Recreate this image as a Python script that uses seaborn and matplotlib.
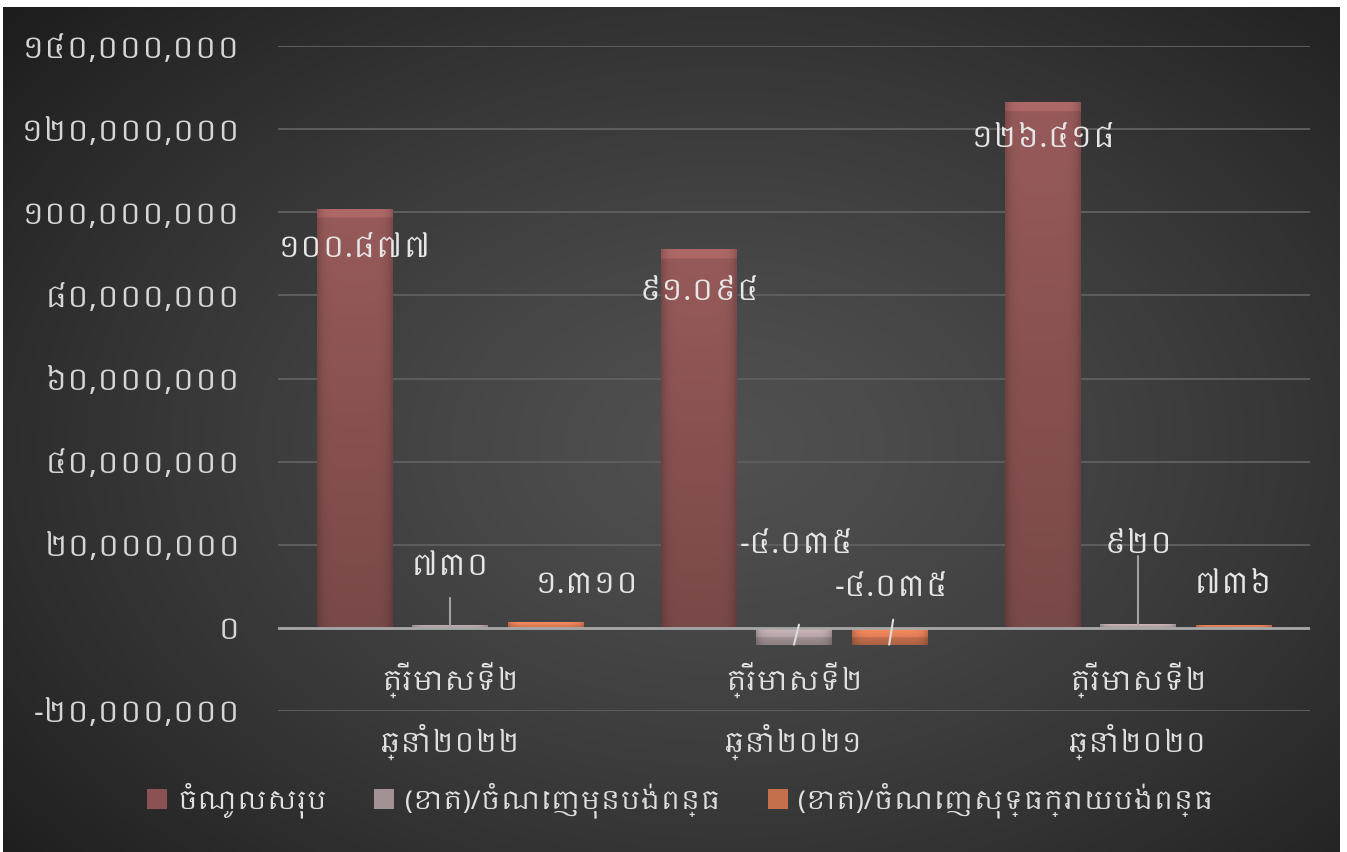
import numpy as np
import pandas as pd
import matplotlib
matplotlib.use("Agg")
import matplotlib.pyplot as plt
import seaborn as sns
from matplotlib import font_manager as fm
from matplotlib.ft2font import FT2Font
from matplotlib.colors import to_rgb

# ---------------- data ----------------
categories = ["ត្រីមាសទី២\nឆ្នាំ២០២២", "ត្រីមាសទី២\nឆ្នាំ២០២១", "ត្រីមាសទី២\nឆ្នាំ២០២០"]
series_names = ["ចំណូលសរុប", "(ខាត)/ចំណេញមុនបង់ពន្ធ", "(ខាត)/ចំណេញសុទ្ធក្រោយបង់ពន្ធ"]
revenue = [100_877_000, 91_094_000, 126_418_000]
profit_before_tax = [730_000, -4_035_000, 920_000]
net_profit = [1_310_000, -4_035_000, 736_000]
y_ticks = [-20_000_000, 0, 20_000_000, 40_000_000, 60_000_000,
           80_000_000, 100_000_000, 120_000_000, 140_000_000]

KHMER_DIGITS = str.maketrans("0123456789", "០១២៣៤៥៦៧៨៩")


def khmer_num(s):
    return s.translate(KHMER_DIGITS)


# ---------------- font ----------------
def find_khmer_font():
    paths = fm.findSystemFonts()
    paths = sorted(paths, key=lambda p: 0 if "khmer" in p.lower() else 1)
    for p in paths:
        try:
            cm = FT2Font(p).get_charmap()
        except Exception:
            continue
        if 0x1780 in cm and 0x17E0 in cm and 0x17D2 in cm:
            return p
    return None


sns.set_theme(style="dark")
families = ["DejaVu Sans"]
kp = find_khmer_font()
if kp:
    try:
        fm.fontManager.addfont(kp)
        kname = fm.FontProperties(fname=kp).get_name()
        families = [kname, "DejaVu Sans"]
    except Exception:
        pass
plt.rcParams["font.family"] = families

# ---------------- figure ----------------
W, H = 1347, 852
fig = plt.figure(figsize=(W / 100, H / 100), dpi=100, facecolor="white")

# background with radial gradient
bg = fig.add_axes([3 / W, 0, (1340 - 3) / W, (H - 7) / H], zorder=0)
ny, nx = 300, 480
yy, xx = np.mgrid[0:1:ny * 1j, 0:1:nx * 1j]
r = np.sqrt(((xx - 0.54) / 0.72) ** 2 + ((yy - 0.52) / 0.78) ** 2)
t = np.clip(r, 0, 1) ** 1.3
c0, c1 = 0x50 / 255, 0x1d / 255
g = c0 + (c1 - c0) * t
bg.imshow(np.dstack([g, g, g]), aspect="auto", extent=(0, 1, 0, 1), origin="upper")
bg.set_axis_off()

ax = fig.add_axes([278 / W, 1 - 711 / H, (1310 - 278) / W, (711 - 46) / H], zorder=1)
ax.set_facecolor("none")

df = pd.DataFrame({
    "category": categories * 3,
    "series": [s for s in series_names for _ in categories],
    "value": revenue + profit_before_tax + net_profit,
})
colors = ["#8a5252", "#a29294", "#c66f4c"]
palette = dict(zip(series_names, colors))

sns.barplot(data=df, x="category", y="value", hue="series", order=categories,
            hue_order=series_names, palette=palette, width=0.83, gap=0.21,
            saturation=1, errorbar=None, ax=ax, legend=True, zorder=3)

handles, labels = ax.get_legend_handles_labels()
if ax.get_legend() is not None:
    ax.get_legend().remove()

ax.set_xlim(-0.5, 2.5)
ax.set_ylim(-20_000_000, 140_000_000)
ax.set_yticks(y_ticks)
ax.set_yticklabels([khmer_num(f"{v:,}") for v in y_ticks], fontsize=21.5, color="#d6d6d6")
ax.tick_params(axis="y", length=0, pad=27)
ax.set_xticks([])
ax.set_xlabel("")
ax.set_ylabel("")
for s in ax.spines.values():
    s.set_visible(False)
for v in y_ticks:
    if v != 0:
        ax.axhline(v, color="#5e5e5e", lw=1.4, zorder=1)
ax.axhline(0, color="#a8a8a8", lw=2, zorder=4)

# pixel -> data conversion
px_y = (140_000_000 - (-20_000_000)) / (711 - 46)
bevel_units = 9 * px_y


def shade_bar(bar, base):
    x0, x1 = bar.get_x(), bar.get_x() + bar.get_width()
    ya, yb = bar.get_y(), bar.get_y() + bar.get_height()
    y0, y1 = min(ya, yb), max(ya, yb)
    h = max(y1 - y0, 1)
    nrow, ncol = 400, 40
    rows = np.linspace(0, 1, nrow)[:, None]     # 0 top -> 1 bottom
    cols = np.linspace(0, 1, ncol)[None, :]
    vert = 1.10 - 0.22 * rows
    horiz = 1 - 0.18 * np.abs(2 * cols - 1) ** 8
    bev = min(1.0, bevel_units / h)
    top = np.where(rows < bev, 1.15, 1.0)
    f = vert * horiz * top
    rgb = np.clip(np.array(to_rgb(base))[None, None, :] * f[:, :, None], 0, 1)
    im = ax.imshow(rgb, extent=(x0, x1, y0, y1), aspect="auto", origin="upper",
                   zorder=3.5, interpolation="bilinear")
    im.set_clip_path(bar)


for cont, base in zip(ax.containers, colors):
    for bar in cont:
        bar.set_edgecolor("none")
        shade_bar(bar, base)

ax.set_xlim(-0.5, 2.5)
ax.set_ylim(-20_000_000, 140_000_000)

# data labels (offsets in px relative to bar end)
label_offsets = [
    [(0, -40), (0, -42), (0, -36)],
    [(0, 58), (3, 100), (0, 80)],
    [(42, 38), (3, 57), (0, 40)],
]
leaders = [
    [None, None, None],
    [(0, 27), (5, 20), (0, 68)],
    [None, (4, 25), None],
]
series_values = [revenue, profit_before_tax, net_profit]
P = 0.72  # px -> points
for si, (cont, vals) in enumerate(zip(ax.containers, series_values)):
    for ci, (bar, v) in enumerate(zip(cont, vals)):
        xc = bar.get_x() + bar.get_width() / 2
        txt = khmer_num(f"{v / 1000:,.0f}".replace(",", "."))
        dx, dy = label_offsets[si][ci]
        ax.annotate(txt, xy=(xc, v), xytext=(dx * P, dy * P), textcoords="offset points",
                    ha="center", va="center", fontsize=21.5, color="#e6e6e6", zorder=6,
                    annotation_clip=False)
        ld = leaders[si][ci]
        if ld is not None:
            lc = "#a0a0a0" if v > 0 else "#dcdcdc"
            ax.annotate("", xy=(xc, v), xytext=(ld[0] * P, ld[1] * P),
                        textcoords="offset points",
                        arrowprops=dict(arrowstyle="-", color=lc, lw=1.5,
                                        shrinkA=0, shrinkB=0), zorder=6)

# category labels under the zero line
for ci, cat in enumerate(categories):
    l1, l2 = cat.split("\n")
    ax.annotate(l1, xy=(ci, 0), xytext=(0, -52 * P), textcoords="offset points",
                ha="center", va="center", fontsize=20, color="#e0e0e0",
                annotation_clip=False)
    ax.annotate(l2, xy=(ci, 0), xytext=(0, -114 * P), textcoords="offset points",
                ha="center", va="center", fontsize=20, color="#e0e0e0",
                annotation_clip=False)

for h_ in handles:
    h_.set_edgecolor("none")
fig.legend(handles, labels, loc="center", bbox_to_anchor=(0.505, 1 - 800 / H), ncol=3,
           frameon=False, fontsize=19, labelcolor="#e0e0e0", handlelength=0.75,
           handleheight=0.75, handletextpad=0.4, columnspacing=1.8)

fig.savefig("out.png", dpi=100, facecolor="white")
